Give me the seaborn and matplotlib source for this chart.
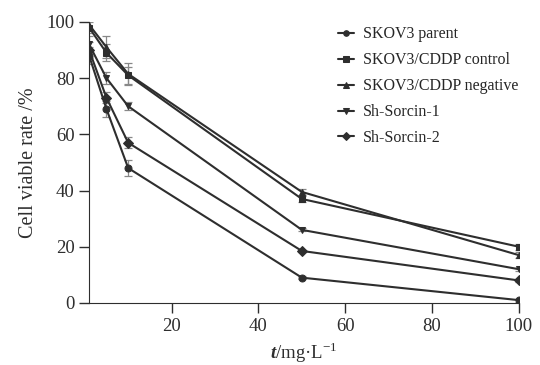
import numpy as np
import pandas as pd
import matplotlib
matplotlib.use("Agg")
import matplotlib.pyplot as plt
import seaborn as sns

# --- DATA ---
conc = [1, 5, 10, 50, 100]
groups = ["SKOV3 parent", "SKOV3/CDDP control", "SKOV3/CDDP negative",
          "Sh-Sorcin-1", "Sh-Sorcin-2"]
parent = [88, 69, 48, 9, 1]
control = [98, 89, 81, 37, 20]
negative = [99, 91, 81.5, 39.5, 17]
sh1 = [92, 80, 70, 26, 12]
sh2 = [90, 73, 57, 18.5, 8]
err_parent = [3, 3, 3, 0.5, 0.5]
err_control = [2, 3, 3, 1, 1]
err_negative = [2, 4, 4, 1, 1]
err_sh1 = [3, 2, 1.5, 0.5, 0.5]
err_sh2 = [3, 2, 2, 0.5, 0.5]

values = [parent, control, negative, sh1, sh2]
errors = [err_parent, err_control, err_negative, err_sh1, err_sh2]
markers = ["o", "s", "^", "v", "D"]

df = pd.DataFrame({
    "conc": conc * len(groups),
    "rate": sum(values, []),
    "err": sum(errors, []),
    "group": [g for g in groups for _ in conc],
})

# --- PLOT ---
sns.set_style("ticks")
plt.rcParams["font.family"] = ["Liberation Serif", "DejaVu Serif"]
plt.rcParams["mathtext.fontset"] = "custom"
plt.rcParams["mathtext.rm"] = "Liberation Serif"
plt.rcParams["mathtext.bf"] = "Liberation Serif:bold:italic"

dark = "#2e2e2e"

fig, ax = plt.subplots(figsize=(5.4, 3.65), dpi=100)
fig.subplots_adjust(left=0.165, right=0.961, bottom=0.17, top=0.94)

# error bars first so the lines sit on top
for g in groups:
    sub = df[df["group"] == g]
    ax.errorbar(sub["conc"], sub["rate"], yerr=sub["err"], fmt="none",
                ecolor="#888888", elinewidth=0.9, capsize=3, capthick=0.9, zorder=1)

sns.lineplot(data=df, x="conc", y="rate", hue="group", style="group",
             markers=dict(zip(groups, markers)), dashes=False,
             palette=[dark] * len(groups), markersize=5,
             markeredgecolor=dark, linewidth=1.5, ax=ax, zorder=2)

ax.set_xlim(1, 100)
ax.set_ylim(0, 100)
ax.set_xticks([20, 40, 60, 80, 100])
ax.set_yticks([0, 20, 40, 60, 80, 100])
ax.tick_params(labelsize=13.5, colors=dark, length=7, width=1)
ax.set_xlabel(r"$\mathbf{t}$/mg·L$^{-1}$", fontsize=13.5, color=dark, labelpad=4)
ax.set_ylabel("Cell viable rate /%", fontsize=14.5, color=dark, labelpad=6)
sns.despine(ax=ax)
for s in ["left", "bottom"]:
    ax.spines[s].set_color(dark)

ax.legend(title=None, frameon=False, loc="upper left",
          bbox_to_anchor=(0.545, 1.035), fontsize=11.5, handlelength=1.0,
          handletextpad=0.6, labelspacing=0.62, markerscale=0.8)

plt.savefig("out.png", dpi=100)
